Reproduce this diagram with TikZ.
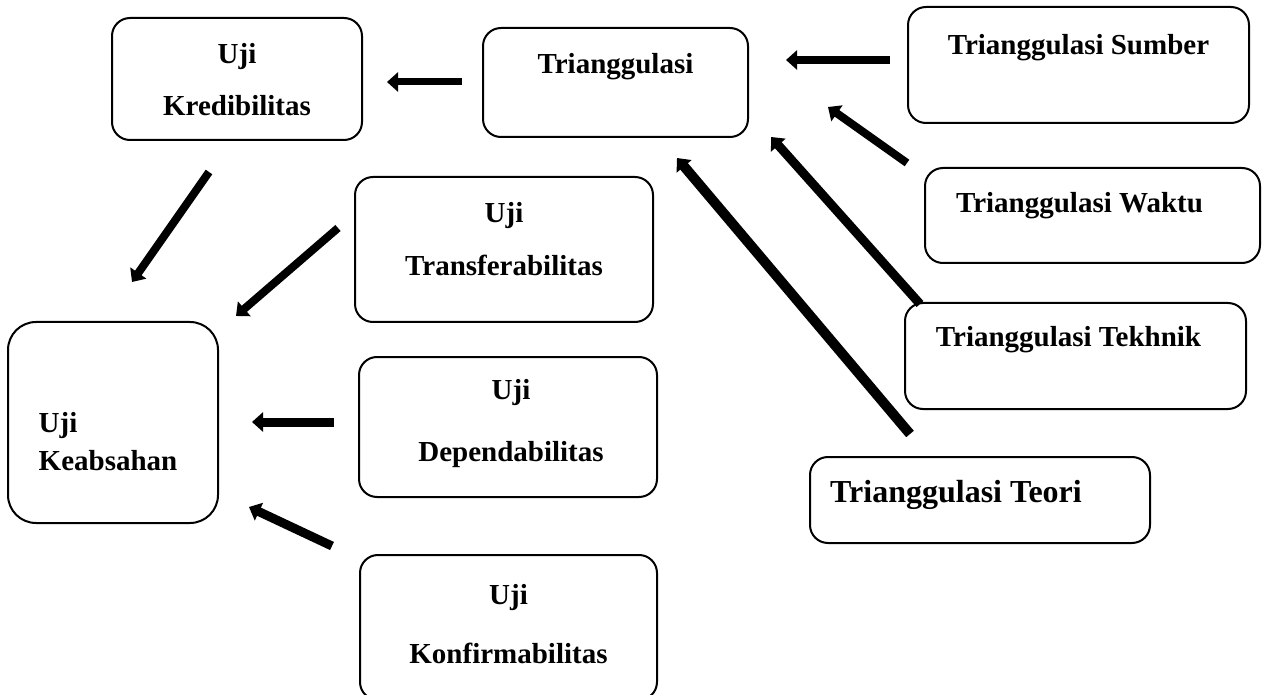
\documentclass[tikz,border=0pt]{standalone}
\usepackage{fontspec}
\setmainfont{Liberation Serif}
\usetikzlibrary{arrows.meta}
\begin{document}
\begin{tikzpicture}[x=1pt,y=-1pt,
  font=\fontsize{29}{35}\selectfont\bfseries,
  box/.style={draw,line width=2pt,rounded corners=18pt,inner sep=0pt},
  arr/.style={line width=8pt,-{Triangle[length=11pt,width=19pt]}}]
\useasboundingbox (0,0) rectangle (1262,695);
\node[box,minimum width=250pt,minimum height=122pt,
  label={[align=center,yshift=-1pt]center:Uji\\[17pt]Kredibilitas}] (kred) at (237,79) {};
\node[box,minimum width=265pt,minimum height=109pt,
  label={[yshift=16pt]center:Trianggulasi}] (tri) at (615.5,82.5) {};
\node[box,minimum width=341pt,minimum height=116pt,
  label={[yshift=17pt]center:Trianggulasi Sumber}] (sumber) at (1078.5,65) {};
\node[box,minimum width=335pt,minimum height=95pt,
  label={[xshift=-13pt,yshift=10pt]center:Trianggulasi Waktu}] (waktu) at (1092.5,215.5) {};
\node[box,minimum width=341pt,minimum height=106pt,
  label={[xshift=-7pt,yshift=16pt]center:Trianggulasi Tekhnik}] (tekhnik) at (1075.5,356) {};
\node[box,minimum width=340pt,minimum height=86pt,
  label={[xshift=-24pt,yshift=5pt,font=\fontsize{32}{38}\selectfont\bfseries]center:Trianggulasi Teori}] (teori) at (980,500) {};
\node[box,minimum width=298pt,minimum height=145pt,
  label={[align=center,yshift=10pt]center:Uji\\[18pt]Transferabilitas}] (transfer) at (504,249.5) {};
\node[box,rounded corners=28pt,minimum width=210pt,minimum height=201pt,
  label={[align=left,xshift=-5pt,yshift=-19pt]center:Uji\\[3pt]Keabsahan}] (keabsahan) at (113,422.5) {};
\node[box,minimum width=298pt,minimum height=140pt,
  label={[align=center,xshift=3pt,yshift=3pt]center:Uji\\[27pt]Dependabilitas}] (depend) at (508,427) {};
\node[box,minimum width=297pt,minimum height=145pt,
  label={[align=center,yshift=3pt]center:Uji\\[24pt]Konfirmabilitas}] (konfirm) at (508.5,627.5) {};
\coordinate (tri-out) at (462,82);
\coordinate (kred-in) at (387,82);
\coordinate (sumber-out) at (890,60);
\coordinate (tri-in1) at (786,60);
\coordinate (waktu-out) at (907,163);
\coordinate (tri-in2) at (828,107);
\coordinate (tekhnik-out) at (920,304);
\coordinate (tri-in3) at (771,137);
\coordinate (teori-out) at (910,434);
\coordinate (tri-in4) at (677,158);
\coordinate (kred-out) at (209,172);
\coordinate (keab-in1) at (132,282);
\coordinate (transfer-out) at (338,228);
\coordinate (keab-in2) at (236,316);
\coordinate (depend-out) at (334,422);
\coordinate (keab-in3) at (252,422);
\coordinate (konfirm-out) at (332,546);
\coordinate (keab-in4) at (249,507);
\draw[arr,line width=7pt] (tri-out) -- (kred-in);
\draw[arr] (sumber-out) -- (tri-in1);
\draw[arr] (waktu-out) -- (tri-in2);
\draw[arr,line width=9pt] (tekhnik-out) -- (tri-in3);
\draw[arr,line width=10pt] (teori-out) -- (tri-in4);
\draw[arr] (kred-out) -- (keab-in1);
\draw[arr] (transfer-out) -- (keab-in2);
\draw[arr,line width=9pt] (depend-out) -- (keab-in3);
\draw[arr,line width=9pt] (konfirm-out) -- (keab-in4);
\end{tikzpicture}
\end{document}
